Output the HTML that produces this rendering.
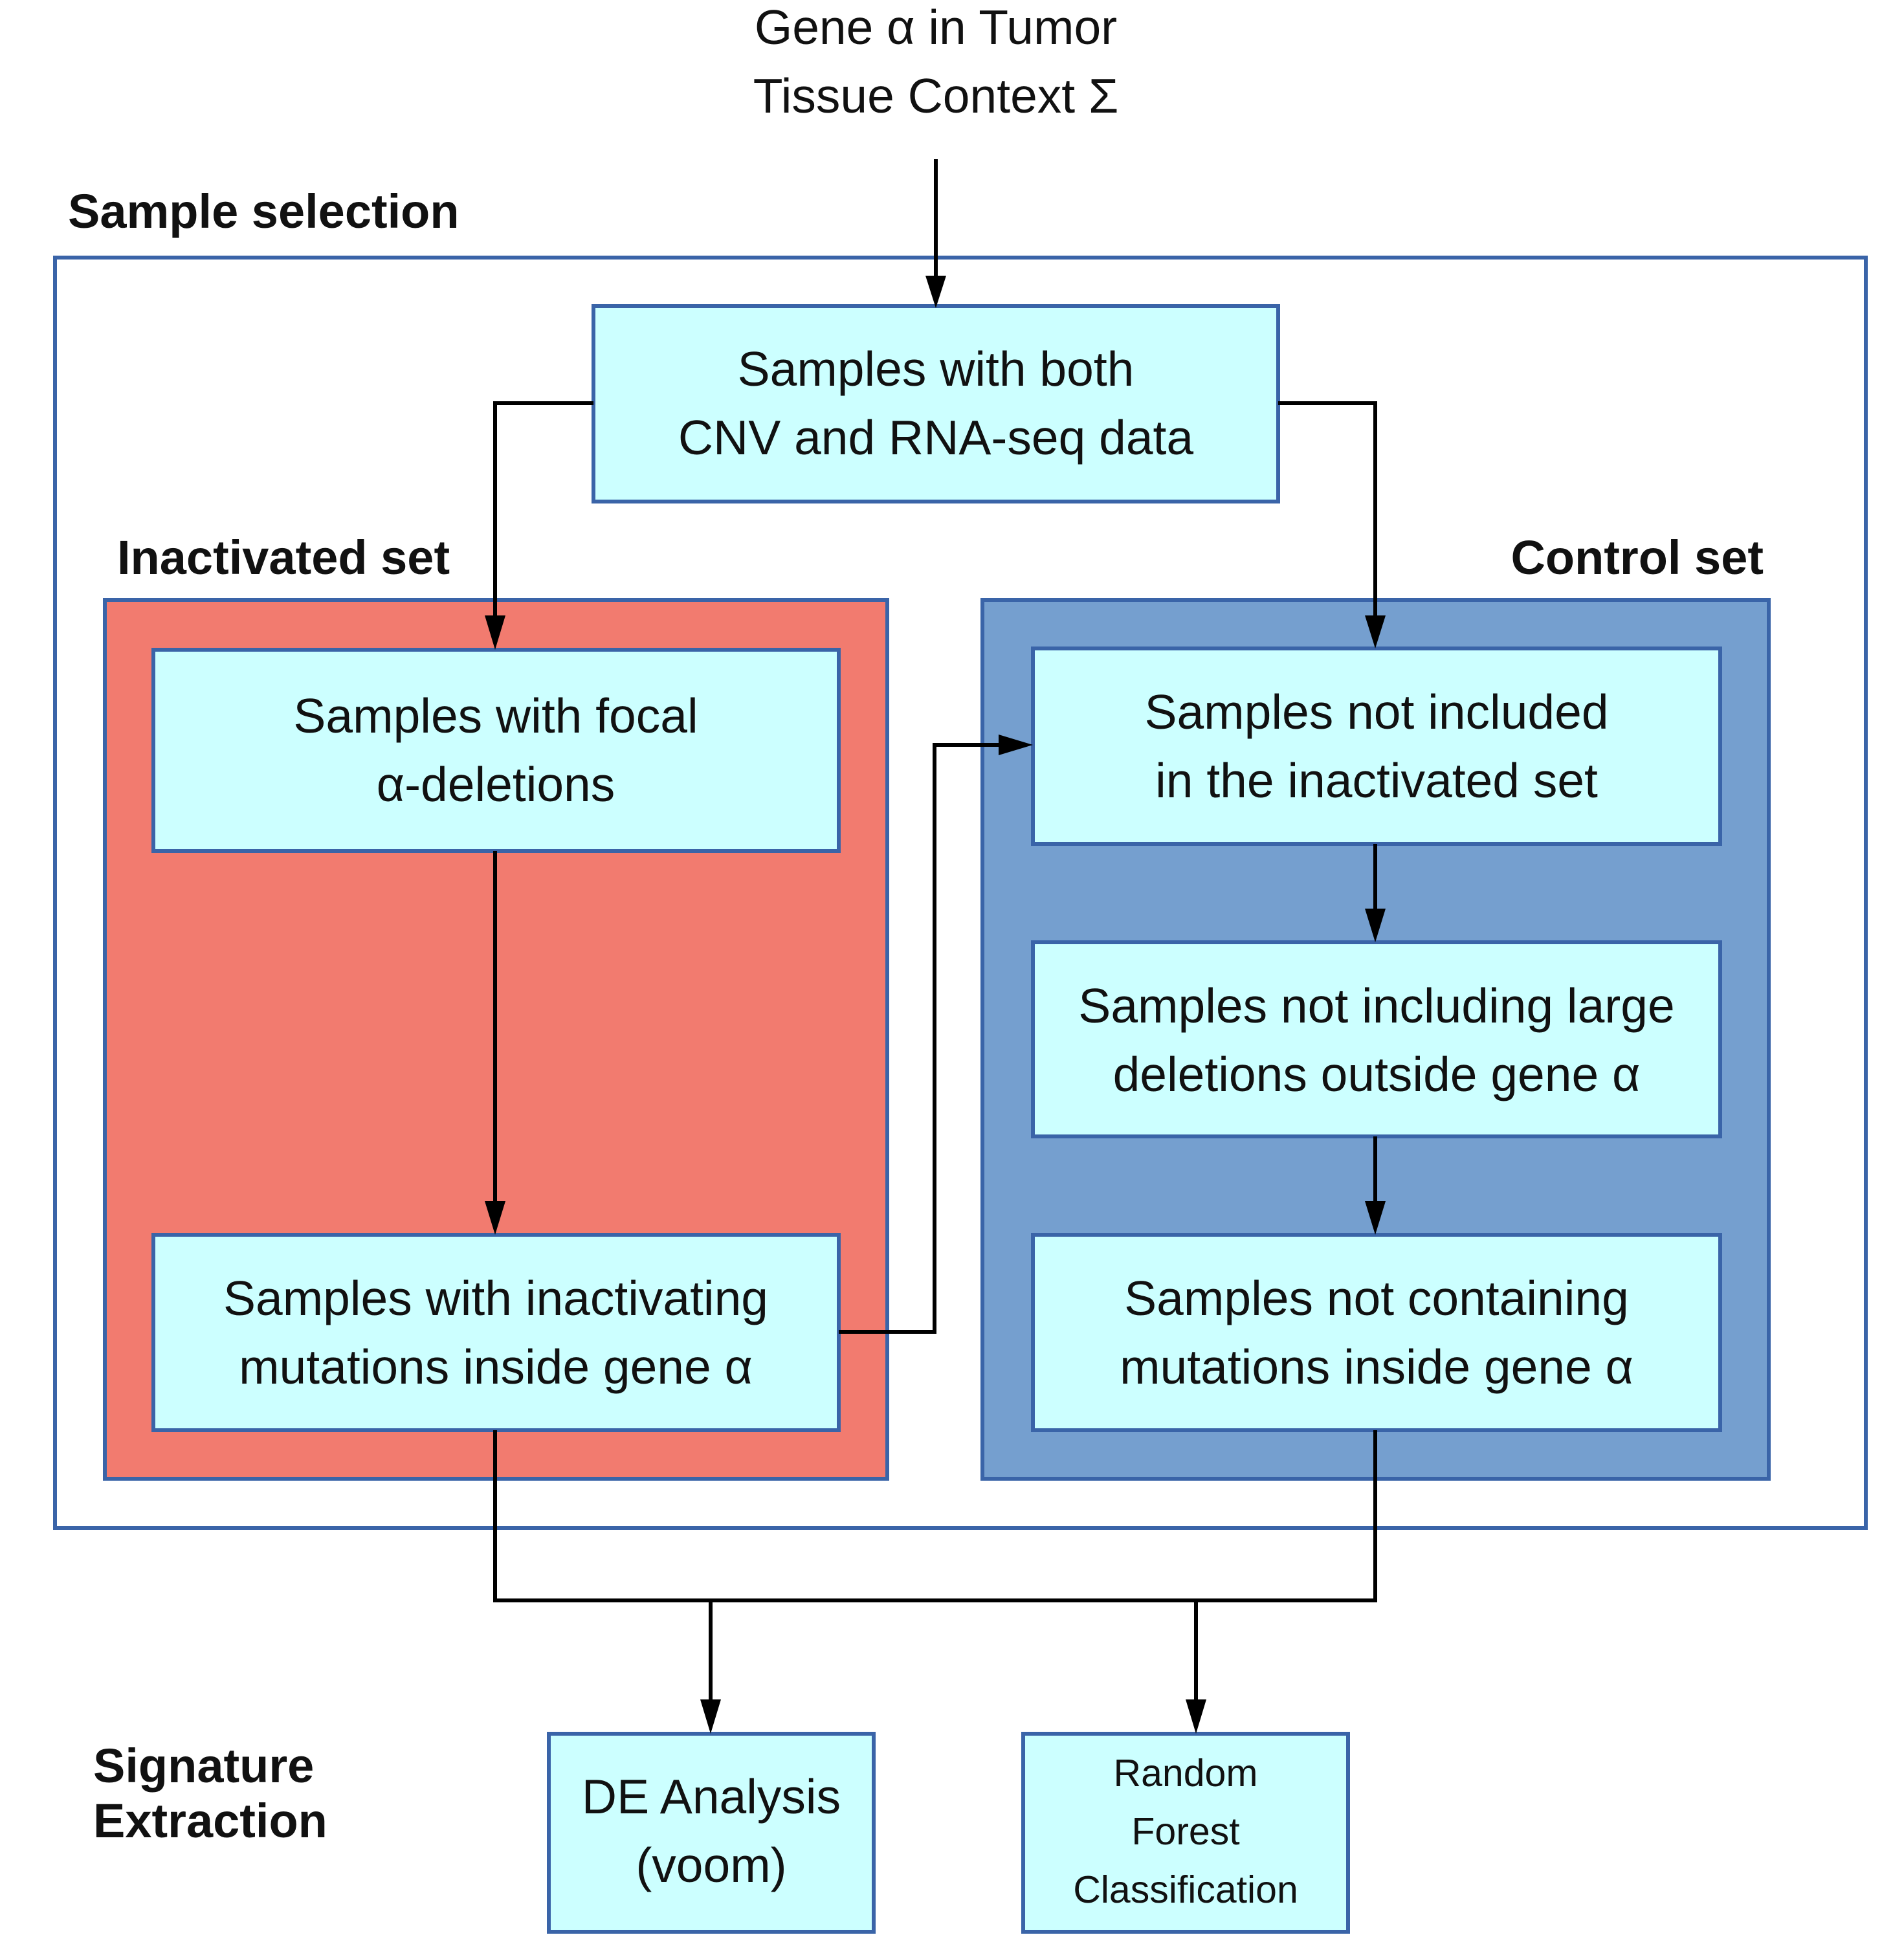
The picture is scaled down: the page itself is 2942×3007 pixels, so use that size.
<!DOCTYPE html>
<html><head><meta charset="utf-8"><style>html,body{margin:0;padding:0;background:#fff}svg{display:block}</style></head>
<body>
<svg width="2942" height="3007" viewBox="0 0 2942 3007" xmlns="http://www.w3.org/2000/svg" font-family="Liberation Sans, DejaVu Sans, sans-serif">
<g fill="none" stroke="#3a64a8" stroke-width="6">
<rect x="85" y="398" width="2798" height="1963" fill="#fff"/>
<rect x="162" y="927" width="1209" height="1358" fill="#f27b6f"/>
<rect x="1518" y="927" width="1215" height="1358" fill="#759fcf"/>
<g fill="#ccffff">
<rect x="917" y="473" width="1058" height="302"/>
<rect x="237" y="1004" width="1059" height="311"/>
<rect x="237" y="1908" width="1059" height="302"/>
<rect x="1596" y="1002" width="1062" height="302"/>
<rect x="1596" y="1456" width="1062" height="300"/>
<rect x="1596" y="1908" width="1062" height="302"/>
<rect x="848" y="2679" width="502" height="306"/>
<rect x="1581" y="2679" width="502" height="306"/>
</g>
</g>
<g fill="none" stroke="#000" stroke-width="6">
<path d="M1446 246V430"/>
<path d="M917 623H765V955"/>
<path d="M1975 623H2125V955"/>
<path d="M765 1315V1860"/>
<path d="M2125 1304V1408"/>
<path d="M2125 1756V1860"/>
<path d="M1296 2058H1444V1151H1548"/>
<path d="M765 2210V2473H2125V2210"/>
<path d="M1098 2473V2630"/>
<path d="M1848 2473V2630"/>
</g>
<g fill="#000">
<path d="M1430 426L1462 426L1446 476Z"/>
<path d="M749 951L781 951L765 1004Z"/>
<path d="M2109 951L2141 951L2125 1002Z"/>
<path d="M749 1856L781 1856L765 1908Z"/>
<path d="M2109 1404L2141 1404L2125 1456Z"/>
<path d="M2109 1856L2141 1856L2125 1908Z"/>
<path d="M1543 1135L1543 1167L1596 1151Z"/>
<path d="M1082 2626L1114 2626L1098 2679Z"/>
<path d="M1832 2626L1864 2626L1848 2679Z"/>
</g>
<g font-size="75" fill="#111" text-anchor="middle">
<text x="1446" y="68">Gene α in Tumor</text>
<text x="1446" y="174">Tissue Context Σ</text>
<text x="1446" y="596">Samples with both</text>
<text x="1446" y="702">CNV and RNA-seq data</text>
<text x="766" y="1132">Samples with focal</text>
<text x="766" y="1238">α-deletions</text>
<text x="766" y="2032">Samples with inactivating</text>
<text x="766" y="2138">mutations inside gene α</text>
<text x="2127" y="1126">Samples not included</text>
<text x="2127" y="1232">in the inactivated set</text>
<text x="2127" y="1580">Samples not including large</text>
<text x="2127" y="1686">deletions outside gene α</text>
<text x="2127" y="2032">Samples not containing</text>
<text x="2127" y="2138">mutations inside gene α</text>
<text x="1099" y="2802">DE Analysis</text>
<text x="1099" y="2908">(voom)</text>
<g font-size="59"><text x="1832" y="2760">Random</text><text x="1832" y="2850">Forest</text><text x="1832" y="2940">Classification</text></g>
</g>
<g font-size="74" font-weight="bold" fill="#111">
<text x="105" y="352">Sample selection</text>
<text x="181" y="887">Inactivated set</text>
<text x="2725" y="887" text-anchor="end">Control set</text>
<text x="144" y="2754">Signature</text>
<text x="144" y="2839">Extraction</text>
</g>
</svg>
</body></html>
